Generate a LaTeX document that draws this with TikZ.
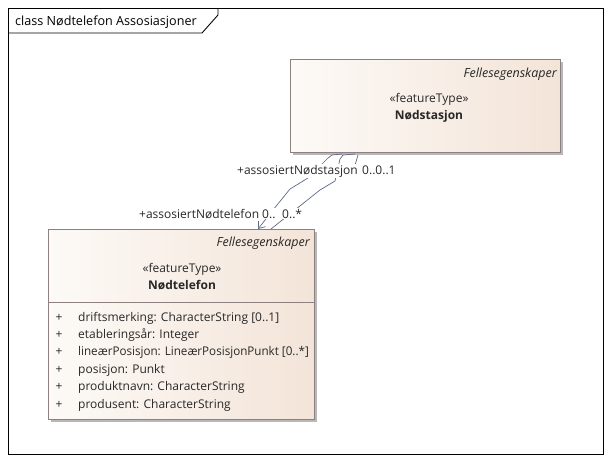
\documentclass[tikz,border=0pt]{standalone}
\usepackage{fontspec}
\setmainfont{Open Sans}
\usetikzlibrary{arrows.meta,shadows}
\definecolor{cborder}{RGB}{140,128,128}
\definecolor{cleft}{RGB}{253,250,247}
\definecolor{cright}{RGB}{243,228,216}
\definecolor{cline}{RGB}{95,105,135}
\definecolor{ctext}{RGB}{40,40,40}
\tikzset{
  cls/.style={draw=cborder, line width=0.8pt, left color=cleft, right color=cright,
    anchor=north west, inner sep=0pt,
    drop shadow={shadow xshift=2.5pt, shadow yshift=-2.5pt, fill=black!28, opacity=1}},
  txt/.style={font=\fontsize{12}{14}\selectfont, text=ctext, inner sep=0pt},
  itxt/.style={txt, font=\fontsize{12.5}{14}\selectfont\itshape},
  btxt/.style={txt, font=\fontsize{12}{14}\selectfont\bfseries},
  lbl/.style={txt, fill=white, inner sep=1pt},
  conn/.style={draw=cline, line width=0.7pt},
}
\begin{document}
\begin{tikzpicture}[x=1pt,y=-1pt]
\useasboundingbox (0,0) rectangle (611,463);
% frame
\draw[line width=0.9pt] (8,8) rectangle (603,454);
\draw[line width=0.9pt] (8,33) -- (202,33) -- (218,15) -- (218,8);
\node[txt, font=\fontsize{12.6}{15}\selectfont, text=black, anchor=base west] (title) at (15,25) {class Nødtelefon Assosiasjoner};

% classes
\node[cls, minimum width=270, minimum height=93] (stasjon) at (290,59) {};
\node[cls, minimum width=266, minimum height=190] (telefon) at (48,229) {};
\draw[cborder, line width=0.8pt] (telefon.west |- 0,302) -- (telefon.east |- 0,302);

% Nødstasjon texts
\node[itxt, anchor=base east] (s-pkg) at (557,77) {Fellesegenskaper};
\node[txt, anchor=base] (s-st) at (429,102) {«featureType»};
\node[btxt, anchor=base] (s-name) at (429,119) {Nødstasjon};

% Nødtelefon texts
\node[itxt, anchor=base east] (t-pkg) at (310,246) {Fellesegenskaper};
\node[txt, anchor=base] (t-st) at (182,272) {«featureType»};
\node[btxt, anchor=base] (t-name) at (182,289) {Nødtelefon};

\foreach \i/\t in {0/{driftsmerking: CharacterString [0..1]},
                   1/{etableringsår: Integer},
                   2/{\scalebox{0.97}[1]{lineærPosisjon: LineærPosisjonPunkt [0..*]}},
                   3/{posisjon: Punkt},
                   4/{produktnavn: CharacterString},
                   5/{produsent: CharacterString}} {
  \node[txt, anchor=base] (p\i) at (59,321+17.4*\i) {+};
  \node[txt, anchor=base west] (a\i) at (78,321+17.4*\i) {\t};
}

% connectors
\coordinate (a-end) at (258,229);
\coordinate (b-end) at (271,229);
\coordinate (a-top) at (342,154);
\coordinate (b-top) at (355,154);
\draw[conn, -{Straight Barb[length=6pt,width=9pt]}] (a-top) -- (332,155) -- (328,158) -- (308,178) -- (290,189) -- (277,205) -- (a-end);
\draw[conn] (b-top) -- (343,155) -- (340,159) -- (335,181) -- (320,190) -- (b-end);
\draw[conn] (358,155) -- (353,172);

% labels
\node[lbl, anchor=base west] (l1) at (236,174) {+assosiertNødstasjon};
\node[txt, anchor=base west] (l2) at (362,174) {0..0..1};
\node[lbl, anchor=base west] (l3) at (138,218) {+assosiertNødtelefon 0..};
\node[lbl, anchor=base west] (l4) at (281,218) {0..*};
\end{tikzpicture}
\end{document}
